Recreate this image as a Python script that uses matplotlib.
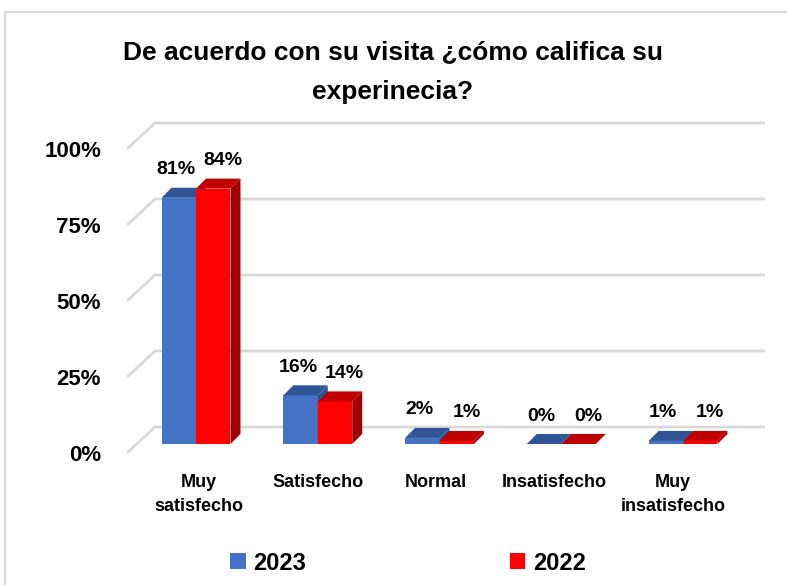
import matplotlib.pyplot as plt
from matplotlib.patches import Polygon, Rectangle

# --- data ---
categories = ["Muy\nsatisfecho", "Satisfecho", "Normal", "Insatisfecho", "Muy\ninsatisfecho"]
series_names = ["2023", "2022"]
vals_2023 = [81, 16, 2, 0, 1]
vals_2022 = [84, 14, 1, 0, 1]
y_ticks = [0, 25, 50, 75, 100]

# --- style ---
FONT = "Liberation Sans"
GRID = "#d9d9d9"
colors_2023 = ("#4472C4", "#2F5597", "#2F5597")   # front, top, side
colors_2022 = ("#FF0000", "#C00000", "#A00000")

# pseudo 3D geometry (data units: x = category, y = percent)
BAR_W = 0.283
BASE = 2.96              # bar front face sits a bit behind the label plane
DX, DY = 0.082, 3.3      # bar depth
WALL_X0, WALL_X1 = -0.567, 4.673
WDX, WDY = 0.23, 8.55    # back wall depth

W, H = 787, 585
fig = plt.figure(figsize=(W / 100, H / 100), dpi=100)

# axes placed so that 1 category = 121.75 px, 1 % = 3.04 px
left_px, right_px, top_px, bot_px = 127, 780, 100, 470
ax = fig.add_axes([left_px / W, 1 - bot_px / H,
                   (right_px - left_px) / W, (bot_px - top_px) / H])
ax.set_xlim(WALL_X0, WALL_X0 + (right_px - left_px) / 121.75)
ax.set_ylim((453 - bot_px) / 3.04, (453 - top_px) / 3.04)
for s in ax.spines.values():
    s.set_visible(False)

# back wall gridlines
for v in y_ticks:
    ax.plot([WALL_X0, WALL_X0 + WDX, WALL_X1], [v, v + WDY, v + WDY],
            color=GRID, lw=2, solid_capstyle="butt", zorder=1)


def draw_bar(x0, h, cols):
    front, top, side = cols
    x1 = x0 + BAR_W
    b, t = BASE, BASE + h
    ax.add_patch(Rectangle((x0, b), BAR_W, h, fc=front, ec="none", zorder=3))
    ax.add_patch(Polygon([(x0, t), (x1, t), (x1 + DX, t + DY), (x0 + DX, t + DY)],
                         closed=True, fc=top, ec="none", zorder=3))
    ax.add_patch(Polygon([(x1, b), (x1 + DX, b + DY), (x1 + DX, t + DY), (x1, t)],
                         closed=True, fc=side, ec="none", zorder=3))


for i in range(len(categories)):
    draw_bar(i - BAR_W, vals_2023[i], colors_2023)
    draw_bar(i, vals_2022[i], colors_2022)
    ax.text(i - BAR_W / 2 - 0.02, BASE + vals_2023[i] + 9.2, f"{vals_2023[i]}%",
            ha="center", va="center", fontsize=14, fontweight="bold", family=FONT)
    ax.text(i + BAR_W / 2 + 0.08, BASE + vals_2022[i] + 9.2, f"{vals_2022[i]}%",
            ha="center", va="center", fontsize=14, fontweight="bold", family=FONT)

# axis labels
ax.set_yticks(y_ticks)
ax.set_yticklabels([f"{v}%" for v in y_ticks], fontsize=16, fontweight="bold", family=FONT)
ax.set_xticks([0.025 + 0.973 * i for i in range(len(categories))])
ax.set_xticklabels(categories, fontsize=13, fontweight="bold", family=FONT, linespacing=1.5)
ax.tick_params(axis="y", length=0, pad=18.7)
ax.tick_params(axis="x", length=0, pad=3)

# legend
handles = [Rectangle((0, 0), 1, 1, fc=colors_2023[0]), Rectangle((0, 0), 1, 1, fc=colors_2022[0])]
fig.legend(handles, series_names, loc="center", bbox_to_anchor=(408 / W, 1 - 563 / H),
           ncol=2, frameon=False, handlelength=0.64, handleheight=0.64,
           handletextpad=0.34, columnspacing=8.6,
           prop={"family": FONT, "size": 17, "weight": "bold"})

# title
fig.text(393 / W, 1 - 72 / H, "De acuerdo con su visita ¿cómo califica su\nexperinecia?",
         ha="center", va="center", fontsize=19, fontweight="bold", family=FONT,
         linespacing=1.8)

# chart frame (only top and left edges are visible in the crop)
fig.add_artist(Rectangle((5 / W, -0.1), 1.2, 1.1 - 12 / H, transform=fig.transFigure,
                         fill=False, ec=GRID, lw=1.5))

fig.savefig("out.png", dpi=100)
